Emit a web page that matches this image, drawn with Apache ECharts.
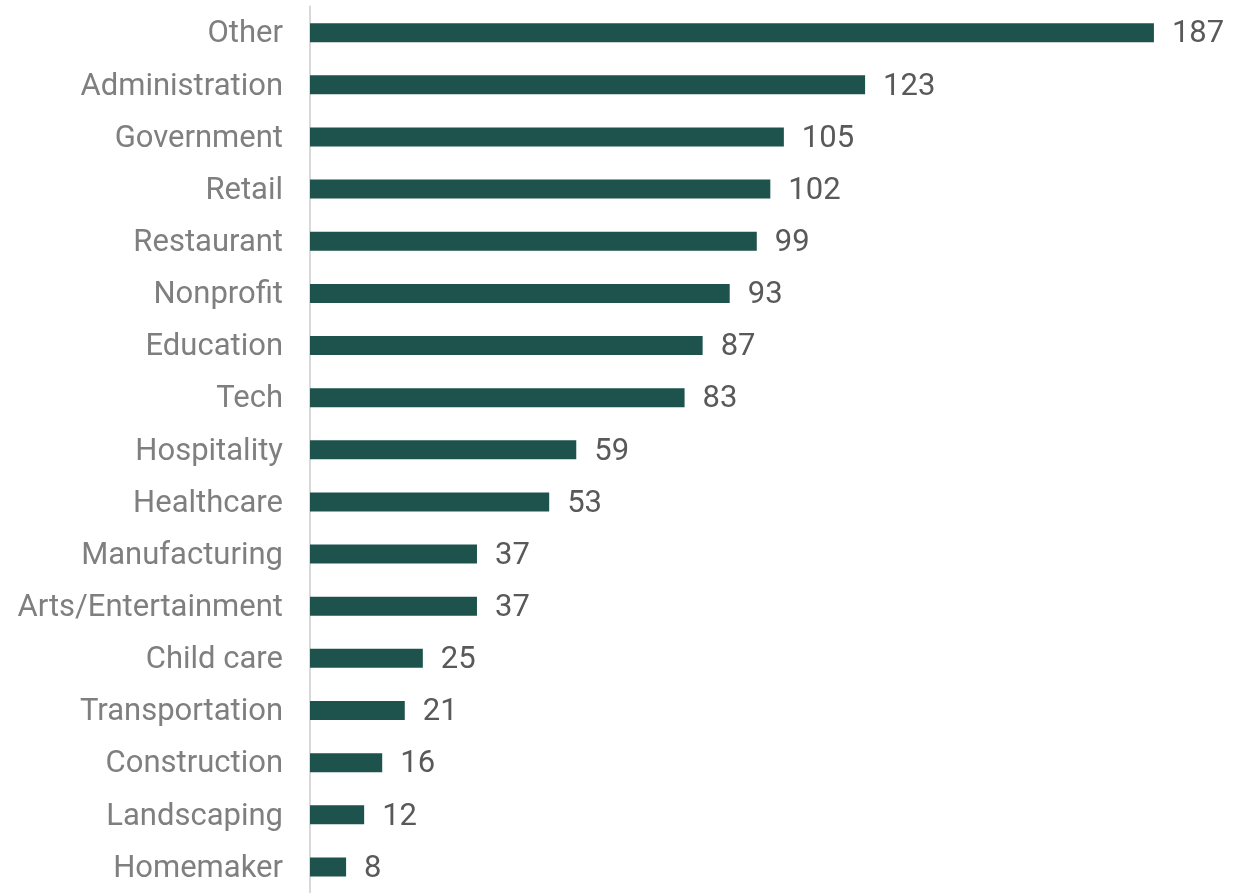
<!DOCTYPE html>
<html>
<head>
<meta charset="utf-8">
<script src="https://cdn.jsdelivr.net/npm/echarts@6/dist/echarts.min.js"></script>
<style>
  html, body { margin: 0; padding: 0; background: #ffffff; }
  #chart { width: 1233px; height: 893px; }
</style>
</head>
<body>
<div id="chart"></div>
<script>
// Industry categories, listed top to bottom
const categories = [
  'Other', 'Administration', 'Government', 'Retail', 'Restaurant',
  'Nonprofit', 'Education', 'Tech', 'Hospitality', 'Healthcare',
  'Manufacturing', 'Arts/Entertainment', 'Child care', 'Transportation',
  'Construction', 'Landscaping', 'Homemaker'
];
// Count per category
const counts = [187, 123, 105, 102, 99, 93, 87, 83, 59, 53, 37, 37, 25, 21, 16, 12, 8];

const chart = echarts.init(document.getElementById('chart'), null, { renderer: 'canvas' });

const FONT = 'Roboto';

chart.setOption({
  animation: false,
  backgroundColor: '#ffffff',
  grid: { left: 310, top: 6.6, width: 902.6, height: 890.6, containLabel: false },
  xAxis: {
    type: 'value',
    min: 0,
    max: 200,
    show: false
  },
  yAxis: {
    type: 'category',
    data: categories,
    inverse: true,
    axisLine: { show: true, lineStyle: { color: '#d9d9d9', width: 2 } },
    axisTick: { show: false },
    axisLabel: {
      interval: 0,
      margin: 27,
      color: '#7f7f7f',
      fontFamily: FONT,
      fontSize: 31,
      // small line box anchored at its top nudges the text a touch below centre
      verticalAlign: 'top',
      lineHeight: 4
    }
  },
  series: [{
    type: 'bar',
    data: counts,
    barWidth: 19,
    itemStyle: { color: '#1e534d' },
    label: {
      show: true,
      position: 'right',
      distance: 18,
      offset: [0, 2],
      color: '#595959',
      fontFamily: FONT,
      fontSize: 31
    }
  }]
});
</script>
</body>
</html>
